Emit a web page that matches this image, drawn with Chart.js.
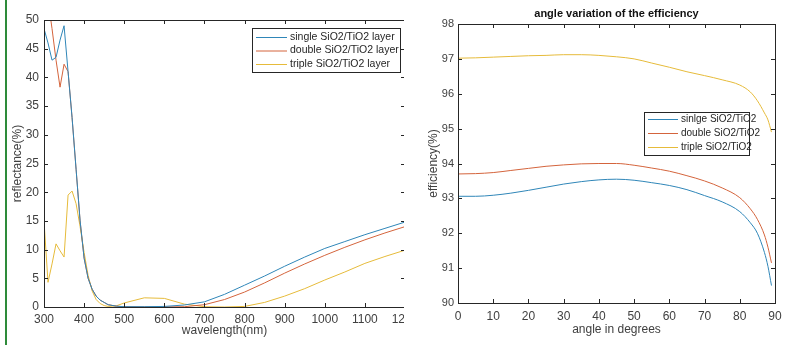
<!DOCTYPE html>
<html>
<head>
<meta charset="utf-8">
<script src="https://cdn.jsdelivr.net/npm/chart.js@4.4.0/dist/chart.umd.min.js"></script>
<style>
body { margin: 0; background: #fff; width: 789px; height: 345px; overflow: hidden; position: relative; }
#edge { position: absolute; left: 5px; top: 0; width: 2px; height: 345px; background: #2e8b3a; z-index: 2; }
#left { position: absolute; left: 0; top: 0; width: 404px; height: 345px; overflow: hidden; }
#left div { position: relative; width: 440px; height: 345px; }
#right { position: absolute; left: 405px; top: 0; width: 384px; height: 345px; }
</style>
</head>
<body>
<div id="edge"></div>
<div id="left"><div><canvas id="refl-chart"></canvas></div></div>
<div id="right"><canvas id="angle-chart"></canvas></div>
<script>
// reflectance vs wavelength
var wavelengths = [300, 310, 320, 330, 340, 350, 360, 370, 380, 390, 400, 410, 420, 430, 440, 450, 460, 480, 500, 550, 600, 650, 700, 750, 800, 850, 900, 950, 1000, 1050, 1100, 1150, 1200];
var singleRefl = [48.5, 46, 43, 43.5, 46.5, 49, 41, 33, 24, 15, 8.5, 5, 3.1, 1.9, 1.2, 0.8, 0.4, 0.15, 0.05, 0.05, 0.1, 0.35, 0.9, 2.2, 3.8, 5.4, 7.1, 8.7, 10.2, 11.4, 12.6, 13.7, 14.8];
var doubleRefl = [58, 53.5, 48.5, 43, 38.3, 42.3, 41, 33, 24, 15, 8.5, 5, 3.1, 1.9, 1.2, 0.8, 0.4, 0.15, 0.05, 0.02, 0.02, 0.05, 0.4, 1.3, 2.6, 4.2, 5.9, 7.5, 9.0, 10.4, 11.7, 12.9, 14];
var tripleRefl = [15, 4.3, 7.5, 11, 9.8, 8.7, 19.5, 20.2, 18, 14, 9.5, 5.5, 2.8, 1.3, 0.6, 0.25, 0.1, 0.2, 0.7, 1.6, 1.5, 0.5, 0.05, 0, 0.1, 0.8, 1.9, 3.2, 4.7, 6.1, 7.6, 8.8, 9.9];
var reflTicks = [0, 5, 10, 15, 20, 25, 30, 35, 40, 45, 50];

// efficiency vs angle
var angles = [0, 5, 10, 15, 20, 25, 30, 35, 40, 45, 50, 55, 60, 65, 70, 75, 80, 83, 85, 87, 88, 89];
var singleEff = [93.06, 93.06, 93.09, 93.15, 93.23, 93.32, 93.41, 93.48, 93.53, 93.55, 93.52, 93.45, 93.37, 93.25, 93.08, 92.9, 92.62, 92.3, 92.0, 91.45, 91.05, 90.5];
var doubleEff = [93.7, 93.71, 93.74, 93.8, 93.86, 93.92, 93.96, 93.99, 94.0, 94.0, 93.95, 93.87, 93.78, 93.65, 93.5, 93.3, 93.02, 92.7, 92.4, 91.95, 91.6, 91.15];
var tripleEff = [97.02, 97.03, 97.05, 97.07, 97.09, 97.1, 97.12, 97.12, 97.1, 97.06, 97.0, 96.88, 96.76, 96.63, 96.52, 96.4, 96.25, 96.05, 95.8, 95.45, 95.25, 94.9];

var blue = '#2f86b8', orange = '#d4643c', yellow = '#e6bb3a';
var axisColor = '#262626';

Chart.defaults.font.family = '"Liberation Sans", Arial, sans-serif';
Chart.defaults.color = '#404040';

function pts(xs, ys) {
    return xs.map(function (x, i) { return { x: x, y: ys[i] }; });
}

function line(label, xs, ys, color, smooth) {
    var ds = {
        label: label,
        data: pts(xs, ys),
        borderColor: color,
        borderWidth: 1,
        pointRadius: 0,
        tension: 0
    };
    if (smooth) ds.cubicInterpolationMode = 'monotone';
    return ds;
}

function plain(v) { return String(v); }

// matlab style box with inward ticks
var boxPlugin = {
    id: 'box',
    afterDatasetsDraw: function (chart) {
        var a = chart.chartArea, ctx = chart.ctx;
        var sx = chart.scales.x, sy = chart.scales.y;
        ctx.save();
        ctx.strokeStyle = axisColor;
        ctx.lineWidth = 1;
        ctx.strokeRect(Math.round(a.left) + 0.5, Math.round(a.top) + 0.5, Math.round(a.right - a.left), Math.round(a.bottom - a.top));
        ctx.beginPath();
        sx.ticks.forEach(function (t) {
            var px = Math.round(sx.getPixelForValue(t.value)) + 0.5;
            ctx.moveTo(px, a.bottom); ctx.lineTo(px, a.bottom - 4);
            ctx.moveTo(px, a.top); ctx.lineTo(px, a.top + 4);
        });
        sy.ticks.forEach(function (t) {
            var py = Math.round(sy.getPixelForValue(t.value)) + 0.5;
            ctx.moveTo(a.left, py); ctx.lineTo(a.left + 4, py);
            ctx.moveTo(a.right, py); ctx.lineTo(a.right - 4, py);
        });
        ctx.stroke();
        ctx.restore();
    }
};

// legend box inside the plot
var boxLegend = {
    id: 'boxLegend',
    afterDraw: function (chart, args, opts) {
        var ctx = chart.ctx;
        ctx.save();
        ctx.fillStyle = '#fff';
        ctx.fillRect(opts.x, opts.y, opts.w, opts.h);
        ctx.strokeStyle = axisColor;
        ctx.lineWidth = 1;
        ctx.strokeRect(opts.x + 0.5, opts.y + 0.5, opts.w, opts.h);
        ctx.font = opts.size + 'px "Liberation Sans", Arial, sans-serif';
        ctx.textBaseline = 'middle';
        chart.data.datasets.forEach(function (ds, i) {
            var ry = opts.y + opts.first + i * opts.row;
            ctx.strokeStyle = ds.borderColor;
            ctx.beginPath();
            ctx.moveTo(opts.x + 4, ry + 0.5);
            ctx.lineTo(opts.x + 4 + opts.sample, ry + 0.5);
            ctx.stroke();
            ctx.fillStyle = '#262626';
            ctx.fillText(ds.label, opts.x + 7 + opts.sample, ry);
        });
        ctx.restore();
    }
};

var plotTitle = {
    id: 'plotTitle',
    afterDraw: function (chart, args, opts) {
        if (!opts.text) return;
        var ctx = chart.ctx, a = chart.chartArea;
        ctx.save();
        ctx.font = 'bold 11px "Liberation Sans", Arial, sans-serif';
        ctx.fillStyle = '#111';
        ctx.textAlign = 'center';
        ctx.textBaseline = 'middle';
        ctx.fillText(opts.text, (a.left + a.right) / 2, opts.y);
        ctx.restore();
    }
};

var ctx1 = document.getElementById('refl-chart');
var reflChart = new Chart(ctx1.getContext('2d'), {
    type: 'line',
    data: {
        datasets: [
            line('single SiO2/TiO2 layer', wavelengths, singleRefl, blue, false),
            line('double SiO2/TiO2 layer', wavelengths, doubleRefl, orange, false),
            line('triple SiO2/TiO2 layer', wavelengths, tripleRefl, yellow, false)
        ]
    },
    options: {
        responsive: true,
        maintainAspectRatio: false,
        animation: false,
        layout: { padding: { left: 0, top: 20, right: 35, bottom: 0 } },
        plugins: {
            legend: { display: false },
            tooltip: { enabled: false },
            boxLegend: { x: 252, y: 28, w: 148, h: 44, first: 9, row: 13.5, sample: 31, size: 10.5 }
        },
        scales: {
            x: {
                type: 'linear', min: 300, max: 1200,
                grid: { display: false, drawTicks: false },
                border: { display: false },
                ticks: { stepSize: 100, padding: 5, font: { size: 12 }, maxRotation: 0, callback: plain },
                title: { display: true, text: 'wavelength(nm)', font: { size: 12 }, padding: { top: 0, bottom: 7 } },
                afterFit: function (s) { s.height = 38; }
            },
            y: {
                min: 0, max: 50,
                grid: { display: false, drawTicks: false },
                border: { display: false },
                afterBuildTicks: function (s) { s.ticks = reflTicks.map(function (v) { return { value: v }; }); },
                ticks: { padding: 5, font: { size: 12 }, callback: plain },
                title: { display: true, text: 'reflectance(%)', font: { size: 12 }, padding: { top: 10, bottom: 0 } },
                afterFit: function (s) { s.width = 44; }
            }
        }
    },
    plugins: [boxPlugin, boxLegend]
});

var ctx2 = document.getElementById('angle-chart');
var angleChart = new Chart(ctx2.getContext('2d'), {
    type: 'line',
    data: {
        datasets: [
            line('sinlge SiO2/TiO2', angles, singleEff, blue, true),
            line('double SiO2/TiO2', angles, doubleEff, orange, true),
            line('triple SiO2/TiO2', angles, tripleEff, yellow, true)
        ]
    },
    options: {
        responsive: true,
        maintainAspectRatio: false,
        animation: false,
        layout: { padding: { left: 0, top: 24, right: 14, bottom: 0 } },
        plugins: {
            legend: { display: false },
            tooltip: { enabled: false },
            boxLegend: { x: 239, y: 112, w: 105, h: 43, first: 7, row: 14, sample: 30, size: 10 },
            plotTitle: { text: 'angle variation of the efficiency', y: 14 }
        },
        scales: {
            x: {
                type: 'linear', min: 0, max: 90,
                grid: { display: false, drawTicks: false },
                border: { display: false },
                ticks: { stepSize: 10, padding: 6, font: { size: 12 }, maxRotation: 0, callback: plain },
                title: { display: true, text: 'angle in degrees', font: { size: 12 }, padding: { top: 0, bottom: 8 } },
                afterFit: function (s) { s.height = 42; }
            },
            y: {
                min: 90, max: 98,
                grid: { display: false, drawTicks: false },
                border: { display: false },
                ticks: { stepSize: 1, padding: 4, font: { size: 11 }, callback: plain },
                title: { display: true, text: 'efficiency(%)', font: { size: 12 }, padding: { top: 21, bottom: 0 } },
                afterFit: function (s) { s.width = 53; }
            }
        }
    },
    plugins: [boxPlugin, boxLegend, plotTitle]
});
</script>
</body>
</html>
